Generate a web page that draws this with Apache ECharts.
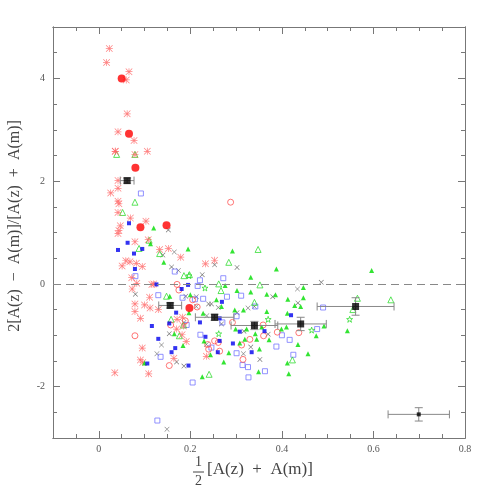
<!DOCTYPE html>
<html>
<head>
<meta charset="utf-8">
<script src="https://cdn.jsdelivr.net/npm/echarts@6/dist/echarts.min.js"></script>
<style>
  html, body { margin: 0; padding: 0; background: #fff; }
  #chart { width: 491px; height: 491px; }
</style>
</head>
<body>
<div id="chart"></div>
<script>
// axis ticks
const xMajor = [0, 0.2, 0.4, 0.6, 0.8];
const xMinor = [-0.05, 0.05, 0.1, 0.15, 0.25, 0.3, 0.35, 0.45, 0.5, 0.55, 0.65, 0.7, 0.75];
const yMajor = [-2, 0, 2, 4];
const yMinor = [-3, -2.5, -1.5, -1, -0.5, 0.5, 1, 1.5, 2.5, 3, 3.5, 4.5, 5];

// red asterisks
const redAsterisk = [
  [0.023, 4.58], [0.017, 4.31], [0.066, 4.13], [0.060, 3.97], [0.062, 3.31],
  [0.042, 2.96], [0.077, 2.79], [0.036, 2.58], [0.079, 2.52], [0.106, 2.58],
  [0.042, 2.01], [0.026, 1.77], [0.042, 1.86], [0.042, 1.61], [0.044, 1.56],
  [0.042, 1.39], [0.069, 1.28], [0.047, 1.13], [0.044, 1.04], [0.042, 0.98],
  [0.103, 1.22], [0.079, 0.82], [0.108, 0.86], [0.133, 0.67], [0.152, 0.69],
  [0.179, 0.52], [0.059, 0.45], [0.051, 0.35], [0.068, 0.43], [0.082, 0.40],
  [0.095, 0.34], [0.233, 0.39], [0.253, 0.46], [0.072, 0.12], [0.083, 0.01],
  [0.116, -0.01], [0.073, -0.10], [0.111, -0.26], [0.079, -0.39], [0.079, -0.54],
  [0.100, -0.41], [0.112, -0.47], [0.130, -0.50], [0.091, -0.67], [0.171, -0.69],
  [0.183, -0.65], [0.185, -0.82], [0.170, -0.88], [0.182, -0.99], [0.191, -1.12],
  [0.095, -1.25], [0.091, -1.48], [0.096, -1.53], [0.164, -1.45], [0.035, -1.73],
  [0.109, -1.75], [0.235, -1.41], [0.036, 2.58], [0.120, 0.00]
];
// large red circles
const redDot = [
  [0.050, 4.00], [0.066, 2.92], [0.080, 2.26], [0.091, 1.10], [0.148, 1.14], [0.198, -0.47]
];
// open red circles
const redRing = [
  [0.288, 1.59], [0.079, -1.01], [0.154, -1.59], [0.171, -0.01], [0.175, -0.12],
  [0.205, -0.31], [0.157, -0.80], [0.189, -0.72], [0.292, -0.75], [0.238, -1.18],
  [0.240, -1.27], [0.261, -1.14], [0.264, -1.31], [0.312, -1.19], [0.330, -1.08],
  [0.315, -1.47], [0.359, -0.80], [0.360, -1.01], [0.390, -0.94], [0.437, -0.95],
  [0.253, -1.11], [0.215, -0.45]
];
// filled blue squares
const blueSquare = [
  [0.066, 1.18], [0.063, 0.80], [0.042, 0.66], [0.095, 0.68], [0.077, 0.59],
  [0.079, 0.29], [0.126, -0.01], [0.181, -0.10], [0.195, -0.02], [0.169, -0.56],
  [0.154, -0.77], [0.116, -0.82], [0.130, -1.07], [0.167, -1.25], [0.159, -1.33],
  [0.106, -1.55], [0.196, -1.59], [0.221, -0.75], [0.233, -1.03], [0.264, -1.11],
  [0.260, -1.33], [0.269, -0.35], [0.264, -0.67], [0.293, -1.16], [0.334, -1.33],
  [0.362, -0.92], [0.420, -0.61], [0.308, -0.93]
];
// open lavender squares
const blueBox = [
  [0.092, 1.76], [0.080, 0.15], [0.166, 0.24], [0.221, 0.07], [0.216, -0.04],
  [0.272, 0.11], [0.130, -0.22], [0.183, -0.27], [0.228, -0.29], [0.280, -0.25],
  [0.311, -0.23], [0.192, -0.80], [0.135, -1.42], [0.222, -0.99], [0.246, -1.24],
  [0.301, -1.35], [0.314, -1.58], [0.326, -1.62], [0.327, -1.82], [0.363, -1.70],
  [0.205, -1.92], [0.128, -2.66], [0.388, -1.22], [0.400, -1.00], [0.417, -1.09],
  [0.425, -1.38], [0.477, -0.88], [0.490, -0.46], [0.342, -0.44], [0.270, -0.75],
  [0.301, -0.63], [0.210, -0.30]
];
// filled green triangles
const greenTri = [
  [0.120, 1.09], [0.113, 0.78], [0.195, 0.68], [0.292, 0.64], [0.142, 0.42],
  [0.388, 0.29], [0.596, 0.26], [0.332, 0.13], [0.276, -0.03], [0.302, -0.13],
  [0.332, -0.16], [0.367, -0.20], [0.386, -0.21], [0.447, -0.07], [0.413, -0.30],
  [0.447, -0.27], [0.441, -0.44], [0.428, -0.42], [0.155, -0.24], [0.200, -0.21],
  [0.197, -0.56], [0.228, -0.57], [0.257, -0.31], [0.268, -0.44], [0.297, -0.51],
  [0.316, -0.51], [0.367, -0.54], [0.412, -0.57], [0.299, -0.88], [0.323, -0.88],
  [0.356, -0.84], [0.399, -0.88], [0.410, -0.84], [0.492, -0.82], [0.475, -1.01],
  [0.543, -0.91], [0.342, -0.97], [0.230, -1.11], [0.184, -1.20], [0.165, -0.97],
  [0.308, -1.15], [0.319, -1.08], [0.345, -1.08], [0.372, -1.09], [0.435, -1.18],
  [0.351, -1.27], [0.284, -1.34], [0.244, -1.38], [0.273, -1.52], [0.412, -1.54],
  [0.457, -1.36], [0.226, -1.81], [0.349, -1.71], [0.415, -1.75], [0.100, -1.54]
];
// open green triangles
const greenOpenTri = [
  [0.039, 2.52], [0.079, 2.52], [0.079, 1.59], [0.052, 1.39], [0.110, 0.85],
  [0.088, 0.69], [0.133, 0.59], [0.348, 0.67], [0.284, 0.42], [0.186, 0.16],
  [0.198, 0.18], [0.262, 0.00], [0.352, -0.02], [0.148, -0.24], [0.267, -0.13],
  [0.340, -0.36], [0.185, -0.80], [0.176, -1.01], [0.241, -1.76], [0.423, -1.48],
  [0.638, -0.31], [0.565, -0.28], [0.555, -0.50], [0.158, -0.69]
];
// open green stars
const greenStar = [
  [0.232, -0.08], [0.197, 0.16], [0.465, -0.90], [0.548, -0.69], [0.370, -0.69], [0.262, -0.97]
];
// black crosses
const blackCross = [
  [0.152, 1.05], [0.140, 0.56], [0.165, 0.62], [0.159, 0.33], [0.174, 0.26],
  [0.253, 0.37], [0.302, 0.32], [0.226, 0.18], [0.080, -0.20], [0.190, -0.24],
  [0.213, -0.25], [0.240, -0.39], [0.246, -0.39], [0.261, -0.46], [0.213, -0.44],
  [0.302, -0.56], [0.326, -0.47], [0.340, -0.44], [0.380, -0.25], [0.434, -0.10],
  [0.435, -0.37], [0.486, 0.03], [0.236, -0.62], [0.186, -0.75], [0.268, -0.78],
  [0.317, -0.92], [0.154, -0.97], [0.137, -1.19], [0.127, -1.36], [0.170, -1.52],
  [0.186, -1.60], [0.316, -1.36], [0.332, -1.23], [0.352, -1.47], [0.370, -0.98],
  [0.149, -2.83], [0.235, -1.18]
];
// binned means: x, y, xerr, yerr
const binMean = [
  [0.062, 2.01, 0.015, 0.05], [0.156, -0.42, 0.025, 0.05], [0.253, -0.65, 0.042, 0.06],
  [0.340, -0.81, 0.051, 0.08], [0.441, -0.78, 0.056, 0.13], [0.561, -0.44, 0.084, 0.17]
];
// typical error
const typicalErr = [[0.699, -2.54, 0.067, 0.13]];

const asteriskPath = 'path://M9,0H11V20H9Z M0,9H20V11H0Z M1.4,0L20,18.6L18.6,20L0,1.4Z M18.6,0L20,1.4L1.4,20L0,18.6Z';
const crossPath = 'path://M1.4,0L20,18.6L18.6,20L0,1.4Z M18.6,0L20,1.4L1.4,20L0,18.6Z';
const starPath = 'path://M10,0L12.4,7.2L20,7.2L13.9,11.7L16.2,19L10,14.5L3.8,19L6.1,11.7L0,7.2L7.6,7.2Z';

const axisColor = '#777';
const labelFont = { color: '#555', fontSize: 10, fontFamily: 'Liberation Serif' };

function xAxisOf(pos, values, len, showLabel) {
  return {
    type: 'value', position: pos, min: -0.1, max: 0.8,
    axisLine: { show: true, onZero: false, lineStyle: { color: axisColor, width: 1 } },
    axisTick: { show: true, inside: true, length: len, customValues: values, lineStyle: { color: axisColor } },
    axisLabel: Object.assign({ show: showLabel, customValues: values, margin: 6 }, labelFont),
    splitLine: { show: false }
  };
}
function yAxisOf(pos, values, len, showLabel) {
  return {
    type: 'value', position: pos, min: -3, max: 5,
    axisLine: { show: true, onZero: false, lineStyle: { color: axisColor, width: 1 } },
    axisTick: { show: true, inside: true, length: len, customValues: values, lineStyle: { color: axisColor } },
    axisLabel: Object.assign({ show: showLabel, customValues: values, margin: 8 }, labelFont),
    splitLine: { show: false }
  };
}

function errorBars(params, api) {
  const x = api.value(0), y = api.value(1), dx = api.value(2), dy = api.value(3);
  const l = api.coord([x - dx, y]), r = api.coord([x + dx, y]);
  const t = api.coord([x, y + dy]), b = api.coord([x, y - dy]);
  const c = 4;
  const style = { stroke: '#888', lineWidth: 1 };
  const seg = (x1, y1, x2, y2) => ({ type: 'line', shape: { x1, y1, x2, y2 }, style });
  return {
    type: 'group',
    children: [
      seg(l[0], l[1], r[0], r[1]),
      seg(l[0], l[1] - c, l[0], l[1] + c),
      seg(r[0], r[1] - c, r[0], r[1] + c),
      seg(t[0], t[1], b[0], b[1]),
      seg(t[0] - c, t[1], t[0] + c, t[1]),
      seg(b[0] - c, b[1], b[0] + c, b[1])
    ]
  };
}

const chart = echarts.init(document.getElementById('chart'));
chart.setOption({
  animation: false,
  backgroundColor: '#fff',
  grid: { left: 53, right: 26, top: 27, bottom: 53 },
  xAxis: [
    xAxisOf('bottom', xMajor, 7, true),
    xAxisOf('bottom', xMinor, 4, false),
    xAxisOf('top', xMajor, 7, false),
    xAxisOf('top', xMinor, 4, false)
  ],
  yAxis: [
    yAxisOf('left', yMajor, 7, true),
    yAxisOf('left', yMinor, 4, false),
    yAxisOf('right', yMajor, 7, false),
    yAxisOf('right', yMinor, 4, false)
  ],
  graphic: [
    { type: 'text', left: 195, top: 455, style: { text: '1', fontSize: 14, fontFamily: 'Liberation Serif', fill: '#444' } },
    { type: 'line', shape: { x1: 193, y1: 472, x2: 204, y2: 472 }, style: { stroke: '#444', lineWidth: 1 } },
    { type: 'text', left: 195, top: 474, style: { text: '2', fontSize: 14, fontFamily: 'Liberation Serif', fill: '#444' } },
    { type: 'text', left: 207, top: 461, style: { text: '[A(z)  +  A(m)]', fontSize: 17, fontFamily: 'Liberation Serif', fill: '#444' } },
    {
      type: 'text', x: 15, y: 226, rotation: Math.PI / 2,
      style: { text: '2[A(z)  \u2212  A(m)]/[A(z)  +  A(m)]', fontSize: 16, fontFamily: 'Liberation Serif', fill: '#444', align: 'center', verticalAlign: 'middle' }
    }
  ],
  series: [
    {
      name: 'zero', type: 'line', data: [], silent: true,
      markLine: {
        symbol: 'none', silent: true, label: { show: false },
        lineStyle: { color: '#888', type: [8, 5], width: 1 },
        data: [{ yAxis: 0 }]
      }
    },
    { name: 'blackCross', type: 'scatter', data: blackCross, symbol: crossPath, symbolSize: 5, itemStyle: { color: '#333' } },
    { name: 'blueBox', type: 'scatter', data: blueBox, symbol: 'rect', symbolSize: 5, itemStyle: { color: 'transparent', borderColor: '#7777ff', borderWidth: 1 } },
    { name: 'greenOpenTri', type: 'scatter', data: greenOpenTri, symbol: 'triangle', symbolSize: 6, itemStyle: { color: 'transparent', borderColor: '#33dd33', borderWidth: 1 } },
    { name: 'greenStar', type: 'scatter', data: greenStar, symbol: starPath, symbolSize: 6, itemStyle: { color: 'transparent', borderColor: '#33dd33', borderWidth: 1 } },
    { name: 'redRing', type: 'scatter', data: redRing, symbol: 'circle', symbolSize: 6, itemStyle: { color: 'transparent', borderColor: '#ff5555', borderWidth: 1 } },
    { name: 'redAsterisk', type: 'scatter', data: redAsterisk, symbol: asteriskPath, symbolSize: 7, itemStyle: { color: '#ff6060' } },
    { name: 'greenTri', type: 'scatter', data: greenTri, symbol: 'triangle', symbolSize: 5, itemStyle: { color: '#00dd00' } },
    { name: 'blueSquare', type: 'scatter', data: blueSquare, symbol: 'rect', symbolSize: 4, itemStyle: { color: '#0000ee' } },
    { name: 'redDot', type: 'scatter', data: redDot, symbol: 'circle', symbolSize: 8, itemStyle: { color: '#ff0000' } },
    { name: 'binErr', type: 'custom', data: binMean.concat(typicalErr), renderItem: errorBars, z: 5 },
    { name: 'binMean', type: 'scatter', data: binMean.map(d => [d[0], d[1]]), symbol: 'rect', symbolSize: 7, itemStyle: { color: '#000' }, z: 6 },
    { name: 'typicalErr', type: 'scatter', data: typicalErr.map(d => [d[0], d[1]]), symbol: 'rect', symbolSize: 4, itemStyle: { color: '#000' }, z: 6 }
  ]
});
</script>
</body>
</html>
